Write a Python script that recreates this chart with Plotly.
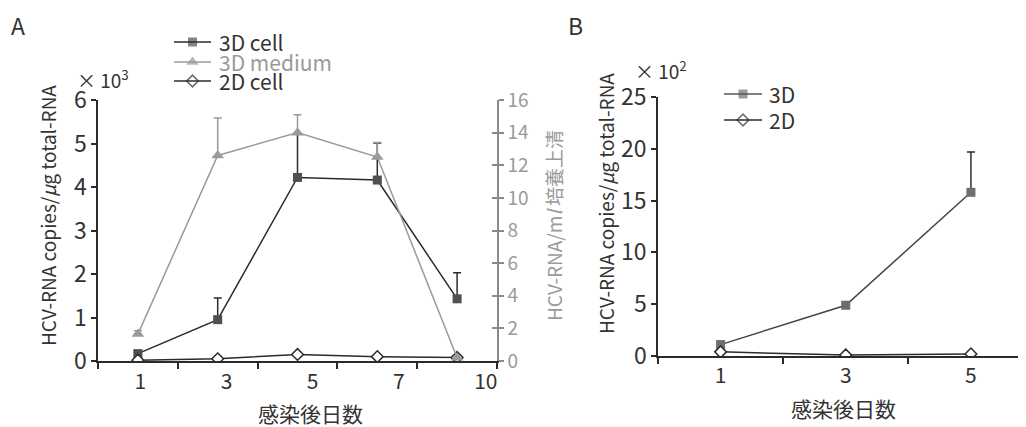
import plotly.graph_objects as go

# page body has an 8px margin: the figure is drawn from (8, 8) of the window
OFF = 8
W, H = 1026 - OFF, 427 - OFF

# ---------------- Data ----------------
days_a = ["1", "3", "5", "7", "10"]
cell3d_a = [0.17, 0.95, 4.22, 4.16, 1.43]
cell3d_a_err = [0.05, 0.5, 1.0, 0.85, 0.6]
medium3d_a = [1.65, 12.6, 14.0, 12.5, 0.2]
medium3d_a_err = [0.2, 2.3, 1.1, 0.9, 0.0]
cell2d_a = [0.02, 0.05, 0.15, 0.1, 0.08]
# the printed day labels of panel A sit slightly right of their points
label_pos_a = [0.03, 1.11, 2.19, 3.27, 4.36]

days_b = ["1", "3", "5"]
d3_b = [1.1, 4.9, 15.8]
d3_b_err = [0.3, 0.3, 3.9]
d2_b = [0.4, 0.1, 0.2]

FONT = "Noto Sans CJK JP"
DARK = "#2b2b2b"
GREY = "#9a9a9a"


def px_x(x):
    return (x - OFF) / W


def px_y(y):
    return 1 - (y - OFF) / H


fig = go.Figure()

# Panel A
fig.add_trace(go.Scatter(
    x=days_a, y=cell3d_a, name="3D cell", xaxis="x", yaxis="y",
    mode="lines+markers", line=dict(color=DARK, width=1.5),
    marker=dict(symbol="square", size=9, color="#505050"),
    error_y=dict(type="data", symmetric=False, array=cell3d_a_err,
                 arrayminus=[0] * 5, color=DARK, thickness=1.5, width=4)))
fig.add_trace(go.Scatter(
    x=days_a, y=medium3d_a, name="3D medium", xaxis="x", yaxis="y2",
    mode="lines+markers", line=dict(color=GREY, width=1.5),
    marker=dict(symbol="triangle-up", size=11, color=GREY),
    error_y=dict(type="data", symmetric=False, array=medium3d_a_err,
                 arrayminus=[0] * 5, color=GREY, thickness=1.5, width=4)))
fig.add_trace(go.Scatter(
    x=days_a, y=cell2d_a, name="2D cell", xaxis="x", yaxis="y",
    mode="lines+markers", line=dict(color=DARK, width=1.5),
    marker=dict(symbol="diamond", size=9, color="white",
                line=dict(color=DARK, width=1.5))))

# Panel B
fig.add_trace(go.Scatter(
    x=days_b, y=d3_b, name="3D", xaxis="x2", yaxis="y3",
    mode="lines+markers", line=dict(color="#444444", width=1.5),
    marker=dict(symbol="square", size=9, color="#6e6e6e"),
    error_y=dict(type="data", symmetric=False, array=d3_b_err,
                 arrayminus=[0] * 3, color=DARK, thickness=1.5, width=4)))
fig.add_trace(go.Scatter(
    x=days_b, y=d2_b, name="2D", xaxis="x2", yaxis="y3",
    mode="lines+markers", line=dict(color=DARK, width=1.5),
    marker=dict(symbol="diamond", size=9, color="white",
                line=dict(color=DARK, width=1.5))))

axis_common = dict(showgrid=False, zeroline=False, showline=True, automargin=False,
                   linewidth=1.5, ticks="outside", tickwidth=1.5)

fig.update_layout(
    width=W, height=H,
    margin=dict(l=0, r=0, t=0, b=0, pad=0, autoexpand=False),
    paper_bgcolor="white", plot_bgcolor="rgba(0,0,0,0)",
    showlegend=False,
    font=dict(family=FONT, color="#333333"),
    xaxis=dict(**axis_common, domain=[px_x(98), px_x(497)], anchor="y",
               type="category", range=[-0.5, 4.5], tickson="boundaries",
               ticklen=6, linecolor=DARK, tickcolor=DARK, showticklabels=False),
    xaxis4=dict(showgrid=False, zeroline=False, showline=False, automargin=False,
                overlaying="x", anchor="y", type="linear", range=[-0.5, 4.5],
                tickmode="array", tickvals=label_pos_a, ticktext=days_a,
                ticks="", ticklabelstandoff=6,
                tickfont=dict(size=21, color="#333333")),
    yaxis=dict(**axis_common, domain=[px_y(361), px_y(100)], anchor="x",
               range=[0, 6], dtick=1, ticklen=5, linecolor=DARK, tickcolor=DARK,
               tickfont=dict(size=23, color="#333333")),
    yaxis2=dict(**axis_common, overlaying="y", side="right", anchor="x",
                range=[0, 16], dtick=2, ticklen=5, linecolor="#8a8a8a",
                tickcolor="#8a8a8a", tickfont=dict(size=19, color=GREY)),
    yaxis4=dict(showgrid=False, zeroline=False, showline=False, automargin=False,
                overlaying="y", side="right", anchor="x", range=[0, 16],
                dtick=2, ticks="inside", ticklen=5, tickwidth=1.5,
                tickcolor="#8a8a8a", showticklabels=False),
    xaxis2=dict(**axis_common, domain=[px_x(658), 1.0], anchor="y3",
                type="category", range=[-0.5, 2.44], tickson="boundaries",
                ticklen=6, linecolor=DARK, tickcolor=DARK,
                tickfont=dict(size=21, color="#333333")),
    yaxis3=dict(**axis_common, domain=[px_y(356), px_y(97)], anchor="x2",
                range=[0, 25], dtick=5, ticklen=5, linecolor=DARK, tickcolor=DARK,
                tickfont=dict(size=23, color="#333333")),
    xaxis3=dict(domain=[0, 1], range=[OFF, OFF + W], visible=False, anchor="y5",
                automargin=False),
    yaxis5=dict(domain=[0, 1], range=[OFF + H, OFF], visible=False, anchor="x3",
                automargin=False),
)

# empty trace to activate the label axis (x4) and the inner right ticks (y4)
fig.add_trace(go.Scatter(x=[None], y=[None], xaxis="x4", yaxis="y4",
                         showlegend=False, hoverinfo="skip"))

ann = []


def text(x, y, s, size, color="#333333", angle=0, xanchor="center"):
    ann.append(dict(x=px_x(x), y=px_y(y), xref="paper", yref="paper", text=s,
                    showarrow=False, textangle=angle, xanchor=xanchor,
                    yanchor="middle", font=dict(family=FONT, size=size, color=color)))


text(18, 25, "A", 23)
text(575, 25, "B", 23)
text(75, 79, "× 10<sup>3</sup>", 19, xanchor="left")
text(633, 70, "× 10<sup>2</sup>", 19, xanchor="left")
text(47, 216, "HCV-RNA copies/<i>μ</i>g total-RNA", 19, angle=-90)
text(606, 204, "HCV-RNA copies/<i>μ</i>g total-RNA", 19, angle=-90)
text(553, 226, "HCV-RNA/m<i>l</i> 培養上清", 19, color=GREY, angle=-90)
text(310, 413, "感染後日数", 21)
text(843, 408, "感染後日数", 21)

# legend A
leg_a = [("3D cell", 42, "#333333"),
         ("3D medium", 62, GREY),
         ("2D cell", 81, "#333333")]
for name, yy, tc in leg_a:
    text(217, yy, name, 21, color=tc, xanchor="left")
# legend B
text(767, 94, "3D", 21, xanchor="left")
text(767, 120, "2D", 21, xanchor="left")

fig.update_layout(annotations=ann)

shapes = []
for (x0, x1, y, col) in [(174, 211, 42, DARK), (174, 211, 62, GREY), (174, 211, 81, DARK),
                         (724, 762, 94, "#555555"), (724, 762, 120, DARK)]:
    shapes.append(dict(type="line", xref="paper", yref="paper",
                       x0=px_x(x0), x1=px_x(x1), y0=px_y(y), y1=px_y(y),
                       line=dict(color=col, width=1.5)))
fig.update_layout(shapes=shapes)

leg_marker_x = [192.5, 192.5, 192.5, 743, 743]
leg_marker_y = [42, 62, 81, 94, 120]
leg_symbols = ["square", "triangle-up", "diamond", "square", "diamond"]
leg_colors = ["#505050", GREY, "white", "#6e6e6e", "white"]
leg_sizes = [9, 11, 9, 9, 9]
fig.add_trace(go.Scatter(
    x=leg_marker_x, y=leg_marker_y, xaxis="x3", yaxis="y5", mode="markers",
    marker=dict(symbol=leg_symbols, color=leg_colors, size=leg_sizes,
                line=dict(color=[DARK, GREY, DARK, DARK, DARK], width=[0, 0, 1.5, 0, 1.5])),
    hoverinfo="skip", showlegend=False))

fig.write_html("out.html")
